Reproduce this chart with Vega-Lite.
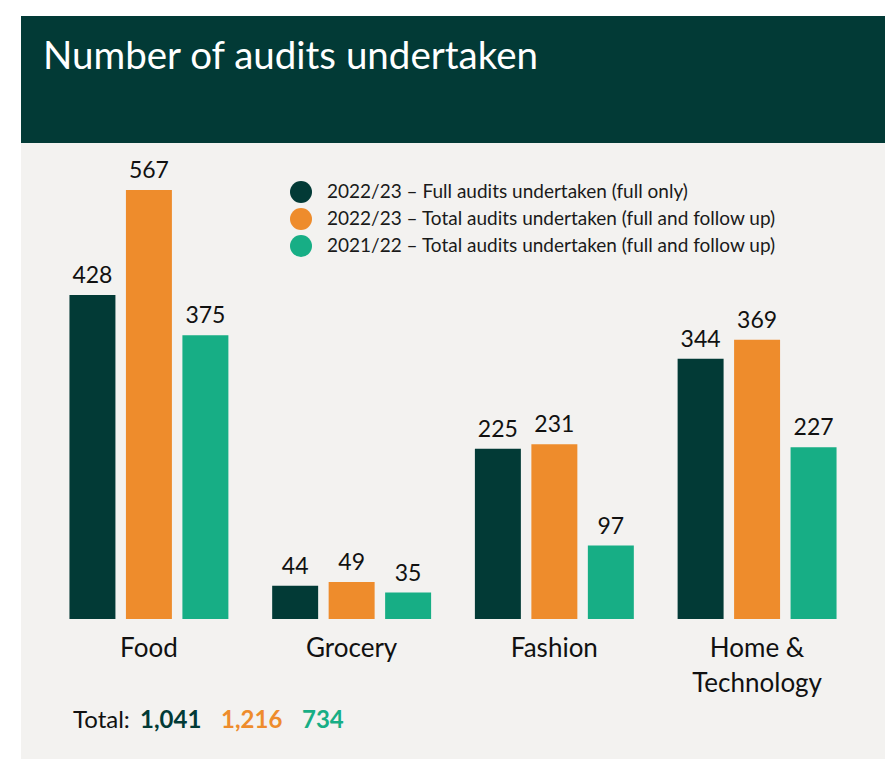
{
  "$schema": "https://vega.github.io/schema/vega-lite/v6.json",
  "background": "white",
  "padding": {"left": 21, "top": 16, "right": 0, "bottom": 0},
  "spacing": 0,
  "config": {"font": "Lato", "view": {"stroke": null}, "concat": {"spacing": 0}},
  "datasets": {
    "audits": [
      {"category": "Food", "series": "2022/23 – Full audits undertaken (full only)", "value": 428},
      {"category": "Food", "series": "2022/23 – Total audits undertaken (full and follow up)", "value": 567},
      {"category": "Food", "series": "2021/22 – Total audits undertaken (full and follow up)", "value": 375},
      {"category": "Grocery", "series": "2022/23 – Full audits undertaken (full only)", "value": 44},
      {"category": "Grocery", "series": "2022/23 – Total audits undertaken (full and follow up)", "value": 49},
      {"category": "Grocery", "series": "2021/22 – Total audits undertaken (full and follow up)", "value": 35},
      {"category": "Fashion", "series": "2022/23 – Full audits undertaken (full only)", "value": 225},
      {"category": "Fashion", "series": "2022/23 – Total audits undertaken (full and follow up)", "value": 231},
      {"category": "Fashion", "series": "2021/22 – Total audits undertaken (full and follow up)", "value": 97},
      {"category": "Home & Technology", "series": "2022/23 – Full audits undertaken (full only)", "value": 344},
      {"category": "Home & Technology", "series": "2022/23 – Total audits undertaken (full and follow up)", "value": 369},
      {"category": "Home & Technology", "series": "2021/22 – Total audits undertaken (full and follow up)", "value": 227}
    ]
  },
  "vconcat": [
    {
      "width": 864,
      "height": 127,
      "view": {"fill": "#023a36", "stroke": null},
      "title": {
        "text": "Number of audits undertaken",
        "anchor": "start",
        "orient": "top",
        "frame": "group",
        "offset": -91,
        "dx": 22,
        "color": "white",
        "fontSize": 38.5,
        "fontWeight": "normal",
        "font": "Lato",
        "baseline": "alphabetic"
      },
      "data": {"values": [{}]},
      "mark": {"type": "text"},
      "encoding": {}
    },
    {
      "width": 864,
      "height": 616,
      "view": {"fill": "#f3f2f0", "stroke": null},
      "data": {"name": "audits"},
      "layer": [
        {
          "layer": [
            {
              "mark": {"type": "bar"},
              "encoding": {
                "x": {
                  "field": "category", "type": "nominal",
                  "sort": ["Food", "Grocery", "Fashion", "Home & Technology"],
                  "scale": {"paddingInner": 0.216, "paddingOuter": 0.239},
                  "axis": {
                    "orient": "bottom", "offset": -140, "domain": false, "ticks": false, "grid": false,
                    "labelPadding": 16, "labelFontSize": 26, "labelColor": "#111111", "labelFont": "Lato",
                    "labelAngle": 0, "labelBaseline": "top", "labelLineHeight": 35, "title": null,
                    "labelExpr": "datum.value == 'Home & Technology' ? ['Home &', 'Technology'] : datum.value"
                  }
                },
                "xOffset": {
                  "field": "series", "type": "nominal",
                  "sort": ["2022/23 – Full audits undertaken (full only)", "2022/23 – Total audits undertaken (full and follow up)", "2021/22 – Total audits undertaken (full and follow up)"],
                  "scale": {"paddingInner": 0.186, "paddingOuter": 0}
                },
                "y": {"field": "value", "type": "quantitative", "scale": {"domain": [-185, 629], "nice": false, "zero": false}, "axis": null},
                "color": {
                  "field": "series", "type": "nominal",
                  "scale": {
                    "domain": ["2022/23 – Full audits undertaken (full only)", "2022/23 – Total audits undertaken (full and follow up)", "2021/22 – Total audits undertaken (full and follow up)"],
                    "range": ["#023a36", "#ee8c2c", "#17ae85"]
                  },
                  "legend": {
                    "orient": "none", "legendX": 269, "legendY": 165, "title": null, "padding": 0,
                    "symbolType": "circle", "symbolSize": 484, "symbolStrokeWidth": 0,
                    "labelFontSize": 19, "labelFont": "Lato", "labelColor": "#1a1a1a", "labelLimit": 700,
                    "labelOffset": 15, "rowPadding": 5
                  }
                }
              }
            },
            {
              "mark": {"type": "text", "baseline": "alphabetic", "align": "center", "dy": -12, "fontSize": 23, "color": "#111111"},
              "encoding": {
                "x": {"field": "category", "type": "nominal", "sort": ["Food", "Grocery", "Fashion", "Home & Technology"]},
                "xOffset": {"field": "series", "type": "nominal", "sort": ["2022/23 – Full audits undertaken (full only)", "2022/23 – Total audits undertaken (full and follow up)", "2021/22 – Total audits undertaken (full and follow up)"]},
                "y": {"field": "value", "type": "quantitative"},
                "text": {"field": "value", "type": "quantitative"}
              }
            }
          ]
        },
        {
          "layer": [
            {
              "transform": [{"aggregate": [{"op": "sum", "field": "value", "as": "total"}], "groupby": ["series"]}],
              "mark": {"type": "text", "align": "left", "baseline": "alphabetic", "fontSize": 24, "fontWeight": "bold"},
              "encoding": {
                "x": {
                  "field": "series", "type": "nominal",
                  "sort": ["2022/23 – Full audits undertaken (full only)", "2022/23 – Total audits undertaken (full and follow up)", "2021/22 – Total audits undertaken (full and follow up)"],
                  "scale": {"type": "point", "range": [119, 281], "padding": 0},
                  "axis": null
                },
                "y": {"datum": -144},
                "color": {"field": "series", "type": "nominal"},
                "text": {"field": "total", "type": "quantitative", "format": ","}
              }
            },
            {
              "data": {"values": [{"label": "Total:"}]},
              "mark": {"type": "text", "align": "left", "baseline": "alphabetic", "fontSize": 24, "dx": -67, "color": "#111111"},
              "encoding": {
                "x": {"datum": "2022/23 – Full audits undertaken (full only)"},
                "y": {"datum": -144},
                "text": {"field": "label"}
              }
            }
          ]
        }
      ],
      "resolve": {"scale": {"x": "independent"}}
    }
  ]
}
